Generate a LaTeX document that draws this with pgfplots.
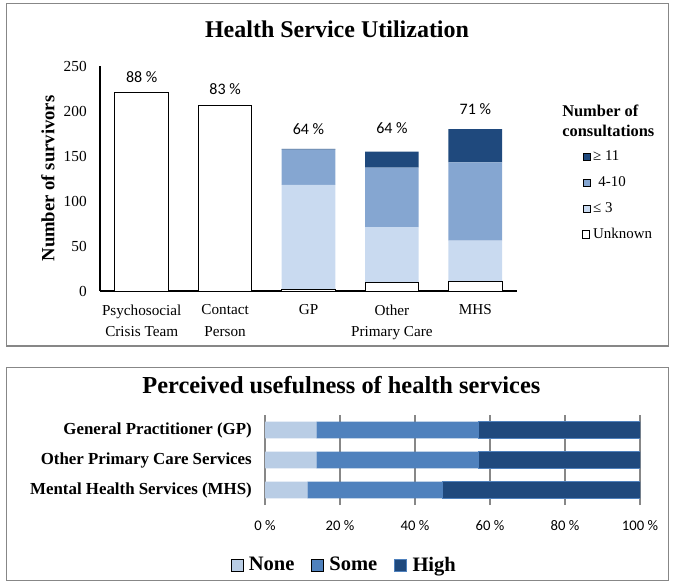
\documentclass[border=0pt]{standalone}
\usepackage{fontspec}
\setmainfont{Liberation Serif}
\newfontfamily\carlito{Carlito}
\usepackage{pgfplots}
\pgfplotsset{compat=1.18}
\definecolor{framec}{HTML}{878787}
\definecolor{lowc}{HTML}{C9DAF0}
\definecolor{midc}{HTML}{85A6D1}
\definecolor{highc}{HTML}{1F497D}
\definecolor{nonec}{HTML}{B9CDE5}
\definecolor{somec}{HTML}{4F81BD}
\definecolor{gridc}{HTML}{878787}
\begin{document}
\begin{tikzpicture}[x=0.75pt,y=-0.75pt]
\path (0,0) rectangle (674,584);
\coordinate (topax) at (100,291);
\coordinate (botax) at (265,505);
\draw[framec, line width=0.9pt] (6.3,3.5) rectangle (668.3,346);
\draw[framec, line width=0.9pt] (6.3,367.7) rectangle (668.3,580.3);
\node[anchor=base, font=\fontsize{18}{20}\selectfont\bfseries] at (337,37.3) {Health Service Utilization};
\node[anchor=base, font=\fontsize{18.3}{20}\selectfont\bfseries] at (341.4,393.3) {Perceived usefulness of health services};
\node[anchor=north west, align=left, font=\fontsize{12.3}{14.8}\selectfont\bfseries, inner sep=0pt] at (562,104.7) {Number of\\consultations};

\begin{axis}[
 at={(topax)}, anchor=south west, scale only axis,
 width=312.75pt, height=168.75pt,
 xmin=-0.5, xmax=4.5, ymin=0, ymax=250, enlargelimits=false,
 ybar stacked, bar width=40.2pt,
 axis x line=bottom, axis y line=left,
 axis line style={-, line width=1.8pt, black},
 major tick length=0pt,
 xtick={0,...,4},
 xticklabels={Psychosocial\\Crisis Team, Contact\\Person, GP, Other\\Primary Care, MHS},
 xticklabel style={align=center, font=\fontsize{11.4}{16.3}\selectfont, inner sep=0pt, anchor=north, yshift=-10pt},
 ytick={0,50,...,250},
 yticklabel style={font=\fontsize{11.5}{12}\selectfont, inner sep=0pt, anchor=east, xshift=-9.75pt},
 /pgf/number format/assume math mode=true,
 ylabel={Number of survivors},
 ylabel style={font=\fontsize{14}{16}\selectfont\bfseries, at={(axis description cs:-0.1247,0.5)}, anchor=center},
 reverse legend,
 legend image code/.code={\draw[#1] (0pt,-2.7pt) rectangle (5.4pt,2.7pt);},
 legend style={at={(axis description cs:1.1559,0.6324)}, anchor=north west, draw=none, fill=none,
   inner sep=0pt, row sep=7.4pt, font=\fontsize{11.2}{12}\selectfont,
   nodes={inner sep=0pt, text height=9pt, text depth=3pt, anchor=west},
   /tikz/every odd column/.append style={column sep=2pt}},
]
\addplot[fill=white, draw=black, line width=0.75pt] coordinates {(0,221) (1,206) (2,2) (3,10) (4,11)};
\addlegendentry{Unknown}
\addplot[fill=lowc, draw=none] coordinates {(0,0) (1,0) (2,116) (3,61) (4,45)};
\addlegendentry{≤ 3}
\addplot[fill=midc, draw=none] coordinates {(0,0) (1,0) (2,39) (3,66) (4,87)};
\addlegendentry{\hspace{4pt}4-10}
\addplot[fill=highc, draw=none] coordinates {(0,0) (1,0) (2,1) (3,18) (4,37)};
\addlegendentry{≥ 11}
\node[font=\carlito\fontsize{12}{13}\selectfont] at (axis cs:0,237.8) {88 \%};
\node[font=\carlito\fontsize{12}{13}\selectfont] at (axis cs:1,224.7) {83 \%};
\node[font=\carlito\fontsize{12}{13}\selectfont] at (axis cs:2,180.3) {64 \%};
\node[font=\carlito\fontsize{12}{13}\selectfont] at (axis cs:3,181.4) {64 \%};
\node[font=\carlito\fontsize{12}{13}\selectfont] at (axis cs:4,201.9) {71 \%};
\end{axis}

\begin{axis}[
 at={(botax)}, anchor=south west, scale only axis,
 width=281.25pt, height=67.5pt,
 xmin=0, xmax=100, ymin=-0.5, ymax=2.5, enlargelimits=false,
 xbar stacked, bar width=12.5pt,
 axis line style={draw=none}, major tick length=0pt,
 xmajorgrids, grid style={gridc, line width=0.9pt},
 xtick={0,20,...,100},
 xticklabels={0 \%,20 \%,40 \%,60 \%,80 \%,100 \%},
 xticklabel style={font=\carlito\fontsize{11}{12}\selectfont, inner sep=0pt, anchor=north, yshift=-11.5pt},
 ytick={0,1,2},
 yticklabels={Mental Health Services (MHS), Other Primary Care Services, General Practitioner (GP)},
 yticklabel style={font=\fontsize{12.65}{14}\selectfont\bfseries, inner sep=0pt, anchor=east, xshift=-9.75pt},
 legend columns=3,
 legend image code/.code={\draw[#1] (0pt,-4.5pt) rectangle (9pt,4.5pt);},
 legend style={at={(axis description cs:-0.0925,-0.6667)}, anchor=west, draw=none, fill=none,
   inner sep=0pt, font=\fontsize{15.4}{16}\selectfont\bfseries,
   nodes={inner sep=0pt, anchor=west},
   /tikz/every odd column/.append style={column sep=4.3pt},
   /tikz/every even column/.append style={column sep=12.5pt}},
]
\addplot[fill=nonec, draw=none] coordinates {(13.7,2) (13.7,1) (11.3,0)};
\addlegendentry{None}
\addplot[fill=somec, draw=none] coordinates {(43.2,2) (43.2,1) (36,0)};
\addlegendentry{Some}
\addplot[fill=highc, draw=somec, line width=0.6pt] coordinates {(43.1,2) (43.1,1) (52.7,0)};
\addlegendentry{High}
\end{axis}
\end{tikzpicture}
\end{document}
